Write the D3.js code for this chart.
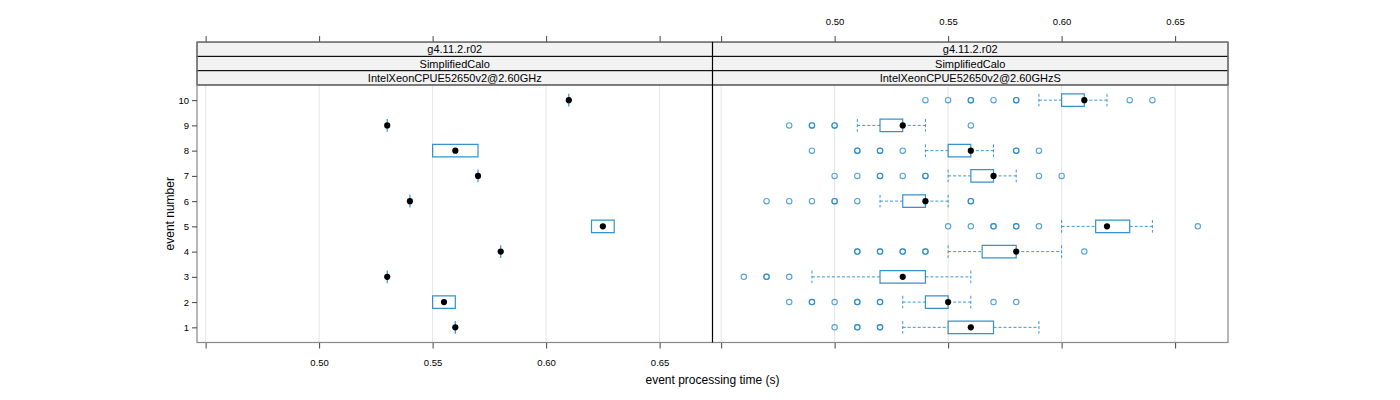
<!DOCTYPE html>
<html><head><meta charset="utf-8">
<script src="https://cdn.jsdelivr.net/npm/d3@7"></script>
<style>body{margin:0;background:#fff}svg{display:block;font-family:"Liberation Sans",Arial,sans-serif}</style>
</head><body><svg id="c" width="1400" height="400"></svg>
<script>
const events = [1,2,3,4,5,6,7,8,9,10];
const xTicks = [0.45,0.50,0.55,0.60,0.65];
const xTickLabels = ["","0.50","0.55","0.60","0.65"];
const stripLevels = ["g4.11.2.r02","SimplifiedCalo"];
const panelNames = ["IntelXeonCPUE52650v2@2.60GHz","IntelXeonCPUE52650v2@2.60GHzS"];

// left panel (few observations)
const leftLo  = [0.56,0.55,0.53,0.58,0.62,0.54,0.57,0.55,0.53,0.61];
const leftQ1  = [0.56,0.55,0.53,0.58,0.62,0.54,0.57,0.55,0.53,0.61];
const leftMed = [0.56,0.555,0.53,0.58,0.625,0.54,0.57,0.56,0.53,0.61];
const leftQ3  = [0.56,0.56,0.53,0.58,0.63,0.54,0.57,0.57,0.53,0.61];
const leftHi  = [0.56,0.56,0.53,0.58,0.63,0.54,0.57,0.57,0.53,0.61];
const leftOut = [[],[],[],[],[],[],[],[],[],[]];

// right panel
const rightLo  = [0.53,0.53,0.49,0.55,0.60,0.52,0.55,0.54,0.51,0.59];
const rightQ1  = [0.55,0.54,0.52,0.565,0.615,0.53,0.56,0.55,0.52,0.60];
const rightMed = [0.56,0.55,0.53,0.58,0.62,0.54,0.57,0.56,0.53,0.61];
const rightQ3  = [0.57,0.55,0.54,0.58,0.63,0.54,0.57,0.56,0.53,0.61];
const rightHi  = [0.59,0.56,0.56,0.60,0.64,0.55,0.58,0.57,0.54,0.62];
const rightOut = [
  [0.50,0.51,0.51,0.52,0.52],
  [0.48,0.49,0.49,0.50,0.51,0.51,0.52,0.52,0.57,0.58],
  [0.46,0.47,0.47,0.48],
  [0.51,0.51,0.52,0.52,0.53,0.53,0.54,0.54,0.61],
  [0.55,0.56,0.57,0.57,0.58,0.58,0.59,0.66],
  [0.47,0.48,0.49,0.50,0.50,0.51,0.56,0.56],
  [0.50,0.51,0.52,0.52,0.53,0.54,0.54,0.59,0.60],
  [0.49,0.51,0.51,0.52,0.52,0.53,0.58,0.58,0.59],
  [0.48,0.49,0.49,0.50,0.50,0.56],
  [0.54,0.55,0.56,0.56,0.57,0.58,0.58,0.63,0.64]
];

const svg = d3.select("#c");
const panelTop = 85, panelBottom = 342.5, stripH = 14.3;
const stripTop = panelTop - 3*stripH;
const panels = [
  {x0:197, x1:712.5, lo:leftLo, q1:leftQ1, med:leftMed, q3:leftQ3, hi:leftHi, out:leftOut, name:panelNames[0], top:false, bottom:true},
  {x0:712.5, x1:1228, lo:rightLo, q1:rightQ1, med:rightMed, q3:rightQ3, hi:rightHi, out:rightOut, name:panelNames[1], top:true, bottom:false}
];
const y = d3.scaleLinear().domain([0.4,10.6]).range([panelBottom, panelTop]);
const boxH = 12.6;
const blue = "#1f86c8";

panels.forEach((p,pi) => {
  const x = d3.scaleLinear().domain([0.4462,0.6733]).range([p.x0,p.x1]);
  const g = svg.append("g");
  g.selectAll(".grid").data(xTicks).join("line")
    .attr("x1",d=>x(d)).attr("x2",d=>x(d)).attr("y1",panelTop).attr("y2",panelBottom)
    .attr("stroke","#e6e6e6").attr("stroke-width",1);
  const bAx = d3.axisBottom(x).tickValues(xTicks).tickSize(6).tickSizeOuter(0)
    .tickFormat((d,i)=> p.bottom ? xTickLabels[i] : "");
  const ga = g.append("g").attr("transform",`translate(0,${panelBottom})`).call(bAx);
  const tAx = d3.axisTop(x).tickValues(xTicks).tickSize(6).tickSizeOuter(0)
    .tickFormat((d,i)=> p.top ? xTickLabels[i] : "");
  const gt = g.append("g").attr("transform",`translate(0,${stripTop})`).call(tAx);
  [ga,gt].forEach(a=>{
    a.select(".domain").remove();
    a.selectAll("line").attr("stroke","#444");
    a.selectAll("text").attr("font-size","9.5px").attr("fill","#000").attr("font-family","Liberation Sans, Arial, sans-serif");
  });
  ga.selectAll("text").attr("dy","1.55em");
  gt.selectAll("text").attr("dy","-0.9em");

  events.forEach((e,i)=>{
    const cy = y(e);
    const wl = g.append("g").attr("stroke",blue).attr("stroke-width",1).attr("stroke-dasharray","3,2").attr("opacity",0.85);
    wl.append("line").attr("x1",x(p.lo[i])).attr("x2",x(p.q1[i])).attr("y1",cy).attr("y2",cy);
    wl.append("line").attr("x1",x(p.q3[i])).attr("x2",x(p.hi[i])).attr("y1",cy).attr("y2",cy);
    if (p.lo[i] < p.q1[i]) wl.append("line").attr("x1",x(p.lo[i])).attr("x2",x(p.lo[i])).attr("y1",cy-boxH/2).attr("y2",cy+boxH/2);
    if (p.hi[i] > p.q3[i]) wl.append("line").attr("x1",x(p.hi[i])).attr("x2",x(p.hi[i])).attr("y1",cy-boxH/2).attr("y2",cy+boxH/2);
    const xa = x(p.q1[i]), xb = x(p.q3[i]);
    g.append("path")
      .attr("d",`M${xa},${cy-boxH/2}H${xb}V${cy+boxH/2}H${xa}Z`)
      .attr("fill","none").attr("stroke",blue).attr("stroke-width",1.2).attr("opacity",0.9);
    g.selectAll(null).data(p.out[i]).join("circle")
      .attr("cx",d=>x(d)).attr("cy",cy).attr("r",2.7)
      .attr("fill","none").attr("stroke",blue).attr("stroke-width",1.1).attr("stroke-opacity",0.75);
    g.append("circle").attr("cx",x(p.med[i])).attr("cy",cy).attr("r",3.1).attr("fill","#000");
  });

  const labels = [stripLevels[0], stripLevels[1], p.name];
  labels.forEach((t,k)=>{
    const sy = stripTop + k*stripH;
    g.append("rect").attr("x",p.x0).attr("y",sy).attr("width",p.x1-p.x0).attr("height",stripH)
      .attr("fill","#f2f2f2").attr("stroke","#000").attr("stroke-width",1);
    g.append("text").attr("x",(p.x0+p.x1)/2).attr("y",sy+stripH/2).attr("dy","0.36em")
      .attr("text-anchor","middle").attr("font-size","11px").text(t);
  });
});

svg.append("rect").attr("x",197).attr("y",stripTop).attr("width",1228-197).attr("height",panelBottom-stripTop)
  .attr("fill","none").attr("stroke","#888").attr("stroke-width",1.2);
svg.append("line").attr("x1",712.5).attr("x2",712.5).attr("y1",stripTop).attr("y2",panelBottom)
  .attr("stroke","#000").attr("stroke-width",1.2);

const yAx = d3.axisLeft(y).tickValues(events).tickSize(5).tickSizeOuter(0).tickFormat(d3.format("d"));
const gy = svg.append("g").attr("transform","translate(197,0)").call(yAx);
gy.select(".domain").remove();
gy.selectAll("line").attr("stroke","#444");
gy.selectAll("text").attr("font-size","9.5px").attr("fill","#000").attr("font-family","Liberation Sans, Arial, sans-serif");

svg.append("text").attr("transform",`translate(174,${(panelTop+panelBottom)/2}) rotate(-90)`)
  .attr("text-anchor","middle").attr("font-size","12px").text("event number");
svg.append("text").attr("x",712.5).attr("y",384).attr("text-anchor","middle").attr("font-size","12px")
  .text("event processing time (s)");
</script></body></html>
